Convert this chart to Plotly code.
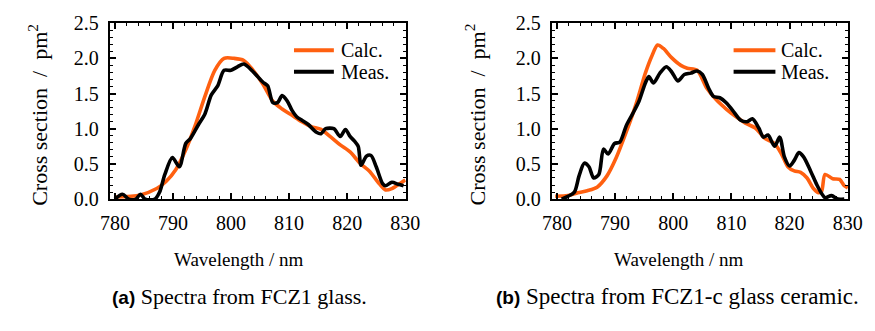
import plotly.graph_objects as go

# ---- data ----
a_calc_x = [780.0, 784.4, 787.2, 788.8, 790.5, 792.2, 793.8, 795.5, 797.2, 798.8, 800.5, 802.2,
            803.8, 805.5, 807.2, 808.8, 810.5, 812.2, 813.8, 815.5, 817.2, 818.8, 820.5, 822.2,
            823.8, 825.5, 826.6, 827.7, 829.4, 830.0]
a_calc_y = [0.03, 0.06, 0.15, 0.25, 0.42, 0.70, 1.04, 1.46, 1.83, 2.00, 2.00, 1.97,
            1.83, 1.63, 1.39, 1.28, 1.19, 1.10, 1.03, 0.99, 0.88, 0.77, 0.67, 0.51,
            0.40, 0.22, 0.13, 0.15, 0.24, 0.27]

a_meas_x = [780.0, 781.3, 782.4, 783.6, 784.4, 785.2, 786.9, 787.7, 788.6, 789.9, 791.1, 792.2,
            793.0, 794.4, 795.5, 796.6, 797.7, 798.8, 800.0, 801.1, 802.2, 803.8, 805.5, 806.3,
            807.2, 808.0, 808.8, 809.7, 810.5, 811.3, 812.2, 813.3, 814.7, 815.5, 816.3, 817.7,
            818.8, 819.7, 820.5, 821.3, 821.9, 822.4, 823.3, 824.1, 825.0, 826.1, 826.6, 827.7,
            828.8, 829.7]
a_meas_y = [0.00, 0.07, 0.00, 0.00, 0.07, 0.00, 0.00, 0.10, 0.35, 0.59, 0.46, 0.79,
            0.86, 1.06, 1.21, 1.48, 1.61, 1.83, 1.83, 1.88, 1.92, 1.81, 1.66, 1.61,
            1.37, 1.37, 1.47, 1.39, 1.26, 1.17, 1.12, 1.06, 0.95, 0.93, 1.00, 1.00,
            0.89, 0.99, 0.89, 0.82, 0.75, 0.48, 0.61, 0.62, 0.46, 0.22, 0.19, 0.24,
            0.21, 0.19]

b_calc_x = [779.7, 781.9, 783.6, 785.2, 786.9, 788.6, 790.2, 791.9, 793.6, 795.2, 796.3, 797.3,
            798.3, 799.7, 801.3, 802.4, 804.1, 805.8, 807.4, 809.1, 810.8, 812.4, 814.1, 815.8,
            817.4, 818.6, 819.7, 820.8, 821.9, 823.0, 824.1, 825.0, 825.5, 826.1, 827.4, 828.6,
            829.4, 830.0]
b_calc_y = [0.04, 0.05, 0.09, 0.12, 0.17, 0.33, 0.59, 0.95, 1.35, 1.79, 2.03, 2.19,
            2.14, 2.01, 1.90, 1.86, 1.83, 1.57, 1.41, 1.28, 1.17, 1.08, 1.01, 0.86,
            0.79, 0.64, 0.46, 0.40, 0.38, 0.30, 0.15, 0.09, 0.11, 0.35, 0.29, 0.28,
            0.19, 0.16]

b_meas_x = [780.8, 781.9, 783.0, 783.8, 784.7, 785.5, 786.3, 787.2, 788.0, 788.8, 789.9, 790.8,
            791.9, 793.0, 794.1, 795.2, 795.8, 796.6, 797.7, 798.8, 799.7, 800.8, 801.9, 803.0,
            804.1, 805.0, 806.1, 806.9, 808.0, 809.1, 810.2, 811.6, 812.7, 813.6, 814.7, 815.5,
            816.3, 817.4, 818.3, 819.1, 820.0, 820.8, 821.6, 822.4, 823.6, 824.7, 825.5, 826.1,
            827.2, 828.3, 829.4]
b_meas_y = [0.00, 0.04, 0.10, 0.33, 0.51, 0.46, 0.30, 0.35, 0.71, 0.64, 0.79, 0.81,
            1.04, 1.21, 1.39, 1.65, 1.74, 1.65, 1.79, 1.88, 1.81, 1.68, 1.77, 1.79,
            1.82, 1.77, 1.57, 1.46, 1.44, 1.37, 1.26, 1.12, 1.10, 1.14, 1.01, 0.88,
            0.91, 0.75, 0.88, 0.60, 0.47, 0.55, 0.66, 0.60, 0.40, 0.20, 0.08, 0.02,
            0.05, 0.00, 0.00]

series_names = ["Calc.", "Meas."]
x_title = "Wavelength / nm"
y_title = "Cross section  /  pm<sup>2</sup>"
caption_tags = ["(a)", "(b)"]
caption_texts = ["Spectra from FCZ1 glass.", "Spectra from FCZ1-c glass ceramic."]

ORANGE = "#ff6010"
BLACK = "#000000"
SERIES_COLORS = [ORANGE, BLACK]
SERIF = "Liberation Serif, serif"

W, H = 875, 331
boxes = [(102.5, 407.0), (557.0, 862.0)]
top_px, bot_px = 13.0, 201.5

fig = go.Figure()

data = [(a_calc_x, a_calc_y, a_meas_x, a_meas_y), (b_calc_x, b_calc_y, b_meas_x, b_meas_y)]
for i, (cx, cy, mx, my) in enumerate(data):
    xa = "x" if i == 0 else "x2"
    ya = "y" if i == 0 else "y2"
    fig.add_trace(go.Scatter(x=cx, y=cy, mode="lines", name=series_names[0], showlegend=False,
                             line=dict(color=ORANGE, width=3.6, shape="spline", smoothing=0.8),
                             xaxis=xa, yaxis=ya))
    fig.add_trace(go.Scatter(x=mx, y=my, mode="lines", name=series_names[1], showlegend=False,
                             line=dict(color=BLACK, width=3.6, shape="spline", smoothing=0.8),
                             xaxis=xa, yaxis=ya))

def xaxis_cfg(i):
    l, r = boxes[i]
    return dict(domain=[l / W, r / W], range=[779.1, 830.1], tickvals=[780, 790, 800, 810, 820, 830],
                ticks="inside", ticklen=6, tickwidth=1.5, tickcolor="black",
                minor=dict(dtick=2, tick0=780, ticks="inside", ticklen=3, tickwidth=1.2, tickcolor="black"),
                showline=True, linewidth=1.8, linecolor="black", mirror="ticks",
                showgrid=False, zeroline=False, ticklabelstandoff=5,
                tickfont=dict(family=SERIF, size=20, color="black"),
                anchor="y" if i == 0 else "y2")

def yaxis_cfg(i):
    return dict(domain=[1 - bot_px / H, 1 - top_px / H], range=[0, 2.5], dtick=0.5, tick0=0,
                tickformat=".1f",
                ticks="inside", ticklen=6, tickwidth=1.5, tickcolor="black",
                minor=dict(dtick=0.1, ticks="inside", ticklen=3, tickwidth=1.2, tickcolor="black"),
                showline=True, linewidth=1.8, linecolor="black", mirror="ticks",
                showgrid=False, zeroline=False, ticklabelstandoff=5,
                tickfont=dict(family=SERIF, size=20, color="black"),
                anchor="x" if i == 0 else "x2")

fig.update_layout(
    width=W, height=H, margin=dict(l=0, r=0, t=0, b=0),
    paper_bgcolor="white", plot_bgcolor="white",
    font=dict(family=SERIF, color="black"),
    xaxis=xaxis_cfg(0), yaxis=yaxis_cfg(0),
    xaxis2=xaxis_cfg(1), yaxis2=yaxis_cfg(1),
    showlegend=False,
)

ann = []
shapes = []
ytitle_x = [28, 478]
xtitle_x = [235, 688]
caption_x = [236, 686]
caption_size = [22, 23]
legend_line_x = [(292, 333), (744, 787)]
legend_text_x = [338, 791]
legend_row_y = [42, 65]
for i in range(2):
    ann.append(dict(text=y_title, x=ytitle_x[i] / W, y=1 - 111 / H, xref="paper", yref="paper",
                    textangle=-90, showarrow=False, xanchor="center", yanchor="middle",
                    font=dict(family=SERIF, size=22, color="black")))
    ann.append(dict(text=x_title, x=xtitle_x[i] / W, y=1 - 266 / H, xref="paper", yref="paper",
                    showarrow=False, xanchor="center", yanchor="middle",
                    font=dict(family=SERIF, size=19, color="black")))
    cap = ("<b><span style=\"font-family:'Liberation Sans',sans-serif;font-size:19px\">"
           + caption_tags[i] + "</span></b> " + caption_texts[i])
    ann.append(dict(text=cap, x=caption_x[i] / W, y=1 - 306 / H,
                    xref="paper", yref="paper", showarrow=False, xanchor="center", yanchor="middle",
                    font=dict(family=SERIF, size=caption_size[i], color="black")))
    # legend (keys + labels)
    for k in range(2):
        x0, x1 = legend_line_x[i]
        shapes.append(dict(type="line", xref="paper", yref="paper",
                           x0=x0 / W, x1=x1 / W, y0=1 - legend_row_y[k] / H, y1=1 - legend_row_y[k] / H,
                           line=dict(color=SERIES_COLORS[k], width=4)))
        ann.append(dict(text=series_names[k], x=legend_text_x[i] / W, y=1 - legend_row_y[k] / H,
                        xref="paper", yref="paper", showarrow=False, xanchor="left", yanchor="middle",
                        font=dict(family=SERIF, size=20, color="black")))
fig.update_layout(annotations=ann, shapes=shapes)

fig.write_html("out.html")
